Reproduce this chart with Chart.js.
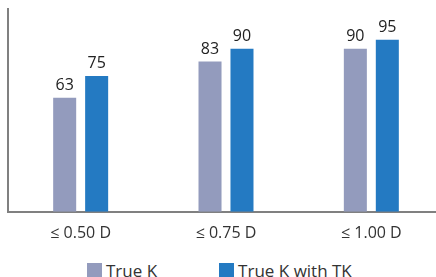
<!DOCTYPE html>
<html>
<head>
<meta charset="utf-8">
<script src="https://cdn.jsdelivr.net/npm/chart.js@4"></script>
<style>
  html, body { margin: 0; padding: 0; background: #fff; overflow: hidden; }
  #wrap { position: relative; width: 444px; height: 277px; }
  #chartBox { position: absolute; left: 0; top: 0; width: 444px; height: 255px; }
  #legend { position: absolute; left: 87px; top: 259px; display: flex; gap: 62px;
            font: 17px "Open Sans", sans-serif; color: #333; }
  #legend span.item { display: flex; align-items: center; }
  #legend i { display: inline-block; width: 15px; height: 15px; margin-right: 4px; }
</style>
</head>
<body>
<div id="wrap">
  <div id="chartBox"><canvas id="myChart"></canvas></div>
  <div id="legend"></div>
</div>
<script>
const categories = ['≤ 0.50 D', '≤ 0.75 D', '≤ 1.00 D'];
const trueK = [63, 83, 90];
const trueKWithTK = [75, 90, 95];
const seriesNames = ['True K', 'True K with TK'];
const colors = ['#939bbd', '#247ac2'];

const valueLabels = {
  id: 'valueLabels',
  afterDatasetsDraw(chart) {
    const ctx = chart.ctx;
    ctx.save();
    ctx.font = '16px "Open Sans", sans-serif';
    ctx.fillStyle = '#222';
    ctx.textAlign = 'center';
    ctx.textBaseline = 'alphabetic';
    chart.data.datasets.forEach((ds, i) => {
      chart.getDatasetMeta(i).data.forEach((bar, j) => {
        ctx.fillText(ds.data[j], bar.x, bar.y - 8);
      });
    });
    ctx.restore();
  }
};

const ctx = document.getElementById('myChart');

new Chart(ctx, {
  type: 'bar',
  data: {
    labels: categories,
    datasets: [{
      label: seriesNames[0],
      data: trueK,
      backgroundColor: colors[0],
      categoryPercentage: 0.44,
      barPercentage: 0.72
    },{
      label: seriesNames[1],
      data: trueKWithTK,
      backgroundColor: colors[1],
      categoryPercentage: 0.44,
      barPercentage: 0.72
    }]
  },
  options: {
    responsive: true,
    maintainAspectRatio: false,
    animation: false,
    layout: { padding: { left: 8, top: 9, right: 0, bottom: 0 } },
    plugins: {
      legend: { display: false },
      tooltip: { enabled: false }
    },
    scales: {
      x: {
        offset: true,
        grid: { display: false, drawTicks: false },
        border: { color: '#808080', width: 2 },
        ticks: { color: '#333', font: { family: '"Open Sans", sans-serif', size: 16 }, padding: 12 }
      },
      y: {
        min: 0,
        max: 112,
        grid: { display: false, drawTicks: false },
        border: { color: '#808080', width: 2 },
        ticks: { display: false }
      }
    }
  },
  plugins: [valueLabels]
});

const legend = document.getElementById('legend');
seriesNames.forEach((name, i) => {
  const item = document.createElement('span');
  item.className = 'item';
  item.innerHTML = '<i style="background:' + colors[i] + '"></i>' + name;
  legend.appendChild(item);
});
</script>
</body>
</html>
